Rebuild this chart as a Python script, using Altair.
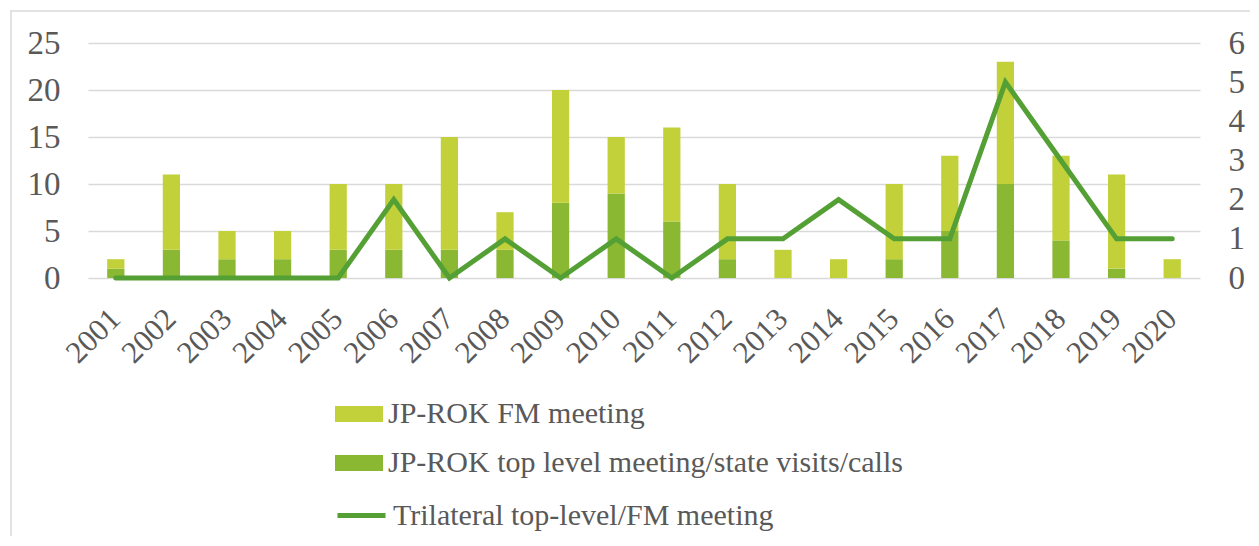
import altair as alt
import pandas as pd

years = [str(y) for y in range(2001, 2021)]
top_level = [1, 3, 2, 2, 3, 3, 3, 3, 8, 9, 6, 2, 0, 0, 2, 5, 10, 4, 1, 0]
fm_meeting = [1, 8, 3, 3, 7, 7, 12, 4, 12, 6, 10, 8, 3, 2, 8, 8, 13, 9, 10, 2]
trilateral = [0, 0, 0, 0, 0, 2, 0, 1, 0, 1, 0, 1, 1, 2, 1, 1, 5, 3, 1, 1]

FM_NAME = "JP-ROK FM meeting"
TOP_NAME = "JP-ROK top level meeting/state visits/calls"
TRI_NAME = "Trilateral top-level/FM meeting"

LIGHT = "#C2D03A"
DARK = "#8AB833"
LINE = "#54A035"
FONT = "Liberation Serif"
TEXT = "#595959"

rows = []
for y, t, f in zip(years, top_level, fm_meeting):
    rows.append({"year": y, "series": TOP_NAME, "value": t, "ord": 0})
    rows.append({"year": y, "series": FM_NAME, "value": f, "ord": 1})
bars_df = pd.DataFrame(rows)
line_df = pd.DataFrame({"year": years, "value": trilateral, "series": [TRI_NAME] * len(years)})

x_enc = alt.X(
    "year:N",
    sort=years,
    scale=alt.Scale(paddingInner=0.69, paddingOuter=0.345),
    axis=alt.Axis(title=None, labelAngle=-45, labelAlign="right", labelBaseline="middle",
                  labelPadding=36, labelFont=FONT, labelFontSize=31, labelColor=TEXT,
                  grid=False, domain=False, ticks=False),
)

bars = alt.Chart(bars_df).mark_bar().encode(
    x=x_enc,
    y=alt.Y("value:Q", stack="zero",
            scale=alt.Scale(domain=[0, 25], nice=False),
            axis=alt.Axis(title=None, orient="left", values=[0, 5, 10, 15, 20, 25],
                          grid=True, gridColor="#D9D9D9", gridWidth=1.5, labelPadding=28,
                          labelFont=FONT, labelFontSize=33, labelColor=TEXT,
                          domain=False, ticks=False)),
    color=alt.Color("series:N",
                    scale=alt.Scale(domain=[FM_NAME, TOP_NAME], range=[LIGHT, DARK]),
                    legend=alt.Legend(orient="none", legendX=247, legendY=347, title=None,
                                      symbolType="M-1,-0.333H1V0.333H-1Z", symbolSize=2304,
                                      symbolStrokeWidth=0, labelFont=FONT, labelFontSize=30,
                                      labelColor=TEXT, labelOffset=5, rowPadding=10, padding=0,
                                      labelLimit=800)),
    order=alt.Order("ord:Q"),
)

line = alt.Chart(line_df).mark_line(strokeWidth=5, strokeCap="round").encode(
    x=x_enc,
    y=alt.Y("value:Q",
            scale=alt.Scale(domain=[0, 6], nice=False),
            axis=alt.Axis(title=None, orient="right", values=[0, 1, 2, 3, 4, 5, 6],
                          grid=False, offset=23, labelPadding=5, labelAlign="left",
                          labelFont=FONT, labelFontSize=33, labelColor=TEXT,
                          domain=False, ticks=False)),
    stroke=alt.Stroke("series:N",
                      scale=alt.Scale(domain=[TRI_NAME], range=[LINE]),
                      legend=alt.Legend(orient="none", legendX=247, legendY=446, title=None,
                                        symbolType="stroke", symbolSize=2304, symbolStrokeWidth=5,
                                        labelFont=FONT, labelFontSize=30, labelColor=TEXT,
                                        labelOffset=5, padding=0, labelLimit=800)),
)

border = alt.Chart(pd.DataFrame({"k": [0]})).mark_rect(
    fill="transparent", stroke="#D9D9D9", strokeWidth=1.5
).encode(
    x=alt.value(-77), x2=alt.value(1400), y=alt.value(-32), y2=alt.value(700)
)

chart = alt.layer(border, bars, line).resolve_scale(
    y="independent", color="independent", stroke="independent"
).properties(
    width=1112, height=235,
    autosize=alt.AutoSizeParams(type="none"),
    padding={"left": 80, "top": 35, "right": 50, "bottom": 258},
).configure_view(stroke=None)

chart.save("out.html", embed_options={"renderer": "svg", "actions": False})
